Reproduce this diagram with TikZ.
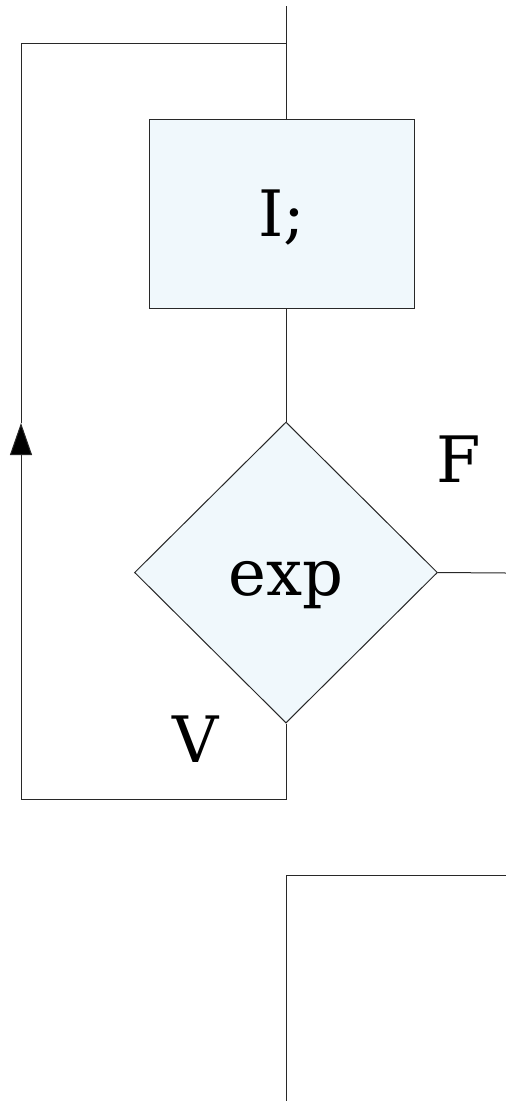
\documentclass[tikz,border=0pt]{standalone}
\usepackage{fontspec}
\setmainfont{DejaVu Serif}
\usetikzlibrary{arrows.meta,shapes.geometric}
\definecolor{boxfill}{RGB}{240,248,252}
\definecolor{linegray}{RGB}{40,40,40}

\begin{document}
\begin{tikzpicture}[x=1pt, y=-1pt, line width=1pt, draw=linegray,
  every node/.style={font=\fontsize{64}{70}\selectfont, inner sep=0pt, text height=45pt, text depth=0pt},
  instrbox/.style={draw=linegray, fill=boxfill, minimum width=265pt, minimum height=189pt},
  testbox/.style={draw=linegray, fill=boxfill, diamond, aspect=1, minimum width=303pt, minimum height=301pt}]
  \useasboundingbox (0,0) rectangle (506,1101);
  % loop body and test
  \node[instrbox] (instr) at (281.5,213.5) {I;};
  \node[testbox] (test) at (286,572.5) {exp};
  \node (lblF) at (459,460) {F};
  \node (lblV) at (196,739.5) {V};
  % corners of the lines
  \coordinate (top) at (286,6);
  \coordinate (loopR) at (286,43);
  \coordinate (loopL) at (21,43);
  \coordinate (arrowtip) at (21,423);
  \coordinate (backL) at (21,799);
  \coordinate (backR) at (286,799);
  \coordinate (exitF) at (506,573);
  \coordinate (nextT) at (506,875);
  \coordinate (nextC) at (286,875);
  \coordinate (nextB) at (286,1101);
  \draw (top) -- (top |- instr.north);
  \draw (loopL) -- (loopR);
  \draw (instr.south -| test.north) -- (test.north);
  \draw (test.east) -- (exitF);
  \draw (test.south) -- (backR) -- (backL);
  \draw[-{Triangle[length=32pt, width=22pt, fill=black]}] (backL) -- (arrowtip);
  \draw (arrowtip) -- (loopL);
  \draw (nextT) -- (nextC) -- (nextB);
\end{tikzpicture}
\end{document}
